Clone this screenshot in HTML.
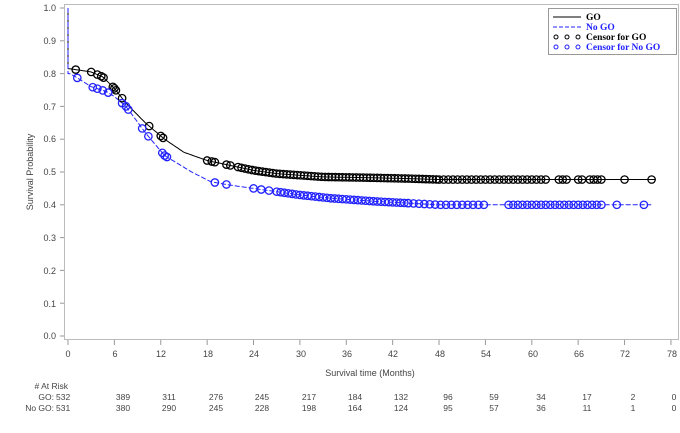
<!DOCTYPE html><html><head><style>body{margin:0;background:#fff}svg{font-family:"Liberation Sans",sans-serif}</style></head><body>
<svg id="s" width="680" height="428" xmlns="http://www.w3.org/2000/svg">
<rect x="0" y="0" width="680" height="428" fill="#fff"/>
<rect x="64.5" y="4.5" width="614" height="335" fill="none" stroke="#bbb" stroke-width="1"/>
<g font-size="9" fill="#444" text-anchor="end">
<text x="56" y="11">1.0</text><text x="56" y="44">0.9</text><text x="56" y="77">0.8</text><text x="56" y="110">0.7</text><text x="56" y="142">0.6</text><text x="56" y="175">0.5</text><text x="56" y="208">0.4</text><text x="56" y="241">0.3</text><text x="56" y="274">0.2</text><text x="56" y="307">0.1</text><text x="56" y="339">0.0</text>
</g>
<text transform="translate(33,172) rotate(-90)" font-size="9" fill="#444" text-anchor="middle">Survival Probability</text>
<text x="370" y="376" font-size="9" fill="#444" text-anchor="middle">Survival time (Months)</text>
<g id="ax" stroke="#999"></g>
<g id="xl" font-size="9" fill="#444" text-anchor="middle">
<text x="68" y="357">0</text><text x="115" y="357">6</text><text x="161" y="357">12</text><text x="208" y="357">18</text><text x="254" y="357">24</text><text x="301" y="357">30</text><text x="347" y="357">36</text><text x="393" y="357">42</text><text x="440" y="357">48</text><text x="486" y="357">54</text><text x="533" y="357">60</text><text x="579" y="357">66</text><text x="625" y="357">72</text><text x="672" y="357">78</text>
</g>
<g font-size="8.5" fill="#444">
<text x="68" y="389" text-anchor="end"># At Risk</text>
<text x="54" y="400" text-anchor="end">GO:</text><text x="56" y="400">532</text>
<text x="54" y="411" text-anchor="end">No GO:</text><text x="56" y="411">531</text>
</g>
<g font-size="8.5" fill="#444" text-anchor="middle">
<text x="123" y="400">389</text><text x="169" y="400">311</text><text x="216" y="400">276</text><text x="262" y="400">245</text><text x="309" y="400">217</text><text x="355" y="400">184</text><text x="401" y="400">132</text><text x="448" y="400">96</text><text x="494" y="400">59</text><text x="541" y="400">34</text><text x="587" y="400">17</text><text x="633" y="400">2</text><text x="674" y="400">0</text>
<text x="123" y="411">380</text><text x="169" y="411">290</text><text x="216" y="411">245</text><text x="262" y="411">228</text><text x="309" y="411">198</text><text x="355" y="411">164</text><text x="401" y="411">124</text><text x="448" y="411">95</text><text x="494" y="411">57</text><text x="541" y="411">36</text><text x="587" y="411">11</text><text x="633" y="411">1</text><text x="674" y="411">0</text>
</g>
<g id="cv"></g>
<rect x="548.5" y="8.5" width="128" height="46" fill="#fff" stroke="#999"/>
<g font-family="Liberation Serif,serif" font-size="9.5" font-weight="bold">
<line x1="553" y1="17" x2="581" y2="17" stroke="#000"/><text x="586" y="20" fill="#000">GO</text>
<line x1="553" y1="27" x2="581" y2="27" stroke="#22f" stroke-dasharray="4,2"/><text x="586" y="30" fill="#22f">No GO</text>
<g fill="none" stroke="#000"><circle cx="556" cy="37" r="2"/><circle cx="567" cy="37" r="2"/><circle cx="578" cy="37" r="2"/></g><text x="586" y="40" fill="#000">Censor for GO</text>
<g fill="none" stroke="#22f"><circle cx="556" cy="47" r="2"/><circle cx="567" cy="47" r="2"/><circle cx="578" cy="47" r="2"/></g><text x="586" y="50" fill="#22f">Censor for No GO</text>
</g>
</svg>
<script>
const X=t=>68+t*7.73,Y=p=>336-p*328;
const ns="http://www.w3.org/2000/svg";
function el(n,a,p){const e=document.createElementNS(ns,n);for(const k in a)e.setAttribute(k,a[k]);p.appendChild(e);return e}
const ax=document.getElementById('ax');
for(let i=0;i<=13;i++)el('line',{x1:X(i*6),x2:X(i*6),y1:340,y2:345},ax);
for(let i=0;i<=10;i++)el('line',{x1:60,x2:64,y1:Y(i/10),y2:Y(i/10)},ax);
const go=[[0,1],[0.2,.815],[3,.805],[4.5,.79],[6,.755],[7.5,.71],[10,.65],[12.5,.6],[15,.56],[18,.535],[21,.52],[24,.505],[27,.495],[30,.49],[33,.485],[38,.483],[44,.48],[48,.477],[76,.477]];
const ng=[[0,1],[0.2,.8],[1,.79],[3,.76],[5,.745],[6,.73],[7.5,.70],[10,.62],[12.5,.55],[16,.50],[18.5,.47],[21,.46],[24,.45],[27,.44],[30,.43],[34,.42],[40,.41],[44,.405],[48,.40],[75.5,.40]];
const cv=document.getElementById('cv');
function f(c,t){for(let i=1;i<c.length;i++)if(t<=c[i][0]){const a=c[i-1],b=c[i];return a[1]+(b[1]-a[1])*(t-a[0])/(b[0]-a[0])}return c[c.length-1][1]}
function path(c,col,dash){let d='M'+X(0)+' '+Y(1)+' L'+X(0)+' '+Y(c[1][1]);for(let t=0.2;t<=c[c.length-1][0];t+=0.25)d+=' L'+X(t).toFixed(1)+' '+Y(f(c,t)).toFixed(1);el('path',{d,fill:'none',stroke:col,'stroke-width':1,'stroke-dasharray':dash||'none'},cv)}
path(go,'#000');path(ng,'#22f','5,2');
function cens(c,ts,col){ts.forEach(t=>el('circle',{cx:X(t),cy:Y(f(c,t)),r:3.7,fill:'none',stroke:col,'stroke-width':1.3},cv))}
let gt=[1,3,3.8,4.3,4.6,5.8,6,6.2,7,10.5,12,12.3,18,18.6,19,20.5,21];for(let t=22;t<=48;t+=0.45)gt.push(t);for(let t=48;t<=62;t+=0.6)gt.push(t);gt.push(63.5,64,64.5,66,66.5,67.5,68,68.5,69,72,75.5);
let nt=[1.2,3.2,3.8,4.5,5.2,7,7.5,7.8,9.6,10.4,12.2,12.5,12.8,19,20.5,24,25,26];for(let t=27;t<=44;t+=0.5)nt.push(t);for(let t=44;t<=54;t+=0.7)nt.push(t);for(let t=57;t<=69;t+=0.6)nt.push(t);nt.push(71,74.5);
cens(go,gt,'#000');cens(ng,nt,'#22f');
</script>
</body></html>
